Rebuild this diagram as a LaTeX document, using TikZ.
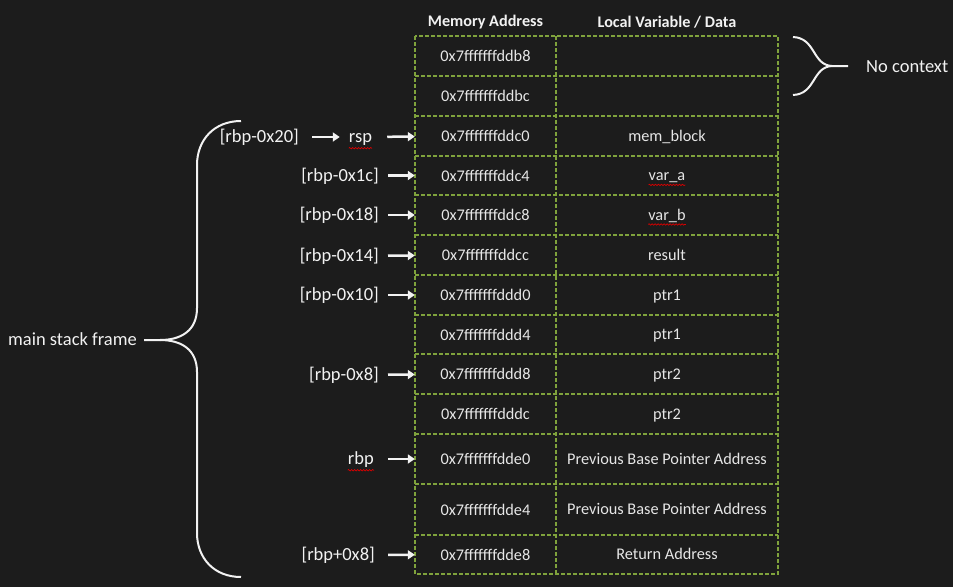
\documentclass[tikz,border=0pt]{standalone}
\usepackage{fontspec}
\setmainfont{Carlito}
\usetikzlibrary{arrows.meta,decorations.pathmorphing}
\definecolor{bgdark}{HTML}{1C1C1C}
\definecolor{cellgreen}{HTML}{7FA23C}
\definecolor{txtwhite}{HTML}{F2F2F2}
\definecolor{celltext}{HTML}{E6E6E6}
\tikzset{
  cellline/.style={draw=cellgreen, line width=1.2pt, dash pattern=on 4pt off 2pt},
  addr/.style={minimum width=141pt, minimum height=36pt, inner sep=0pt, text=celltext, font=\fontsize{16.3}{19}\selectfont},
  datatext/.style={inner sep=0pt, text height=10.5pt, text depth=0pt, text=celltext, font=\fontsize{16.3}{19}\selectfont},
  head/.style={inner sep=0pt, text=txtwhite, font=\fontsize{16.2}{19}\selectfont\bfseries},
  lbl/.style={inner sep=0pt, text height=11.5pt, text depth=0.5pt, text=txtwhite, font=\fontsize{18.5}{22}\selectfont},
  ptr/.style={draw=txtwhite, line width=2.5pt, -{Triangle[length=7pt,width=9pt]}},
  brace/.style={draw=txtwhite, line width=2pt},
  squiggle/.style={draw=red!85!black, line width=0.7pt, decorate, decoration={snake, segment length=3pt, amplitude=0.7pt}}
}
\begin{document}
\begin{tikzpicture}[x=1pt,y=-1pt]
    \fill[bgdark] (0,0) rectangle (953,587);
    \useasboundingbox (0,0) rectangle (953,587);

    % Headers
    \node[head] (hmem) at (485.5,22) {Memory Address};
    \node[head] (hdata) at (667,22) {Local Variable / Data};

    % Grid
    \draw[cellline] (415,36) rectangle (778,574);
    \draw[cellline] (556,36) -- (556,574);
    \foreach \y in {76,116,156,195,235,275,315,354,394,434,484,535}
        \draw[cellline] (415,\y) -- (778,\y);

    % Addresses
    \node[addr] (a1) at (485.5,56) {0x7fffffffddb8};
    \node[addr] (a2) at (485.5,96) {0x7fffffffddbc};
    \node[addr] (a3) at (485.5,136) {0x7fffffffddc0};
    \node[addr] (a4) at (485.5,175.5) {0x7fffffffddc4};
    \node[addr] (a5) at (485.5,215) {0x7fffffffddc8};
    \node[addr] (a6) at (485.5,255) {0x7fffffffddcc};
    \node[addr] (a7) at (485.5,295) {0x7fffffffddd0};
    \node[addr] (a8) at (485.5,334.5) {0x7fffffffddd4};
    \node[addr] (a9) at (485.5,374) {0x7fffffffddd8};
    \node[addr] (a10) at (485.5,414) {0x7fffffffdddc};
    \node[addr] (a11) at (485.5,459) {0x7fffffffdde0};
    \node[addr] (a12) at (485.5,509.5) {0x7fffffffdde4};
    \node[addr] (a13) at (485.5,554.5) {0x7fffffffdde8};

    % Data
    \node[datatext] (d3) at (667,136) {mem\_block};
    \node[datatext] (d4) at (667,175.5) {var\_a};
    \node[datatext] (d5) at (667,215) {var\_b};
    \node[datatext] (d6) at (667,255) {result};
    \node[datatext] (d7) at (667,295) {ptr1};
    \node[datatext] (d8) at (667,334.5) {ptr1};
    \node[datatext] (d9) at (667,374) {ptr2};
    \node[datatext] (d10) at (667,414) {ptr2};
    \node[datatext] (d11) at (667,459) {Previous Base Pointer Address};
    \node[datatext] (d12) at (667,509.5) {Previous Base Pointer Address};
    \node[datatext] (d13) at (667,554.5) {Return Address};

    % Pointer labels
    \node[lbl, anchor=east] (l20) at (299,137) {[rbp-0x20]};
    \node[lbl] (rsp) at (360.5,137) {rsp};
    \node[lbl, anchor=east] (l1c) at (379,175.5) {[rbp-0x1c]};
    \node[lbl, anchor=east] (l18) at (379,215) {[rbp-0x18]};
    \node[lbl, anchor=east] (l14) at (379,256) {[rbp-0x14]};
    \node[lbl, anchor=east] (l10) at (379,295) {[rbp-0x10]};
    \node[lbl, anchor=east] (l8) at (379,375) {[rbp-0x8]};
    \node[lbl, anchor=east] (rbp) at (374,459) {rbp};
    \node[lbl, anchor=east] (lp8) at (375,555) {[rbp+0x8]};

    % Arrows
    \draw[ptr, shorten <=13pt, shorten >=9pt] (l20) -- (rsp);
    \draw[ptr, shorten <=15pt] (rsp) -- (a3);
    \draw[ptr, shorten <=9pt] (l1c) -- (a4);
    \draw[ptr, shorten <=9pt] (l18) -- (a5);
    \draw[ptr, shorten <=9pt] (l14) -- (a6);
    \draw[ptr, shorten <=9pt] (l10) -- (a7);
    \draw[ptr, shorten <=9pt] (l8) -- (a9);
    \draw[ptr, shorten <=14pt] (rbp) -- (a11);
    \draw[ptr, shorten <=13pt] (lp8) -- (a13);

    % Spell check marks
    \draw[squiggle] ([yshift=-5pt]rsp.south west) -- ([yshift=-5pt]rsp.south east);
    \draw[squiggle] ([yshift=-5pt]rbp.south west) -- ([yshift=-5pt]rbp.south east);
    \draw[squiggle] ([yshift=-4pt]d4.south west) -- ([yshift=-4pt]d4.south east);
    \draw[squiggle] ([yshift=-4pt]d5.south west) -- ([yshift=-4pt]d5.south east);

    % main stack frame brace
    \node[lbl, anchor=east] (frame) at (137,340) {main stack frame};
    \coordinate (ftip) at (144,340);
    \draw[brace] (241,121) .. controls (214,121) and (197,140) .. (197,165) -- (197,308)
        .. controls (197,330) and (182,340) .. (160,340) -- (ftip);
    \draw[brace] (241,577) .. controls (214,577) and (197,558) .. (197,533) -- (197,372)
        .. controls (197,350) and (182,340) .. (160,340);

    % No context brace
    \node[lbl, anchor=west] (noctx) at (866,67) {No context};
    \coordinate (ntip) at (848,66);
    \draw[brace] (793,37) .. controls (816,38) and (812,65) .. (832,66) -- (ntip);
    \draw[brace] (793,95) .. controls (816,94) and (812,67) .. (832,66);
\end{tikzpicture}
\end{document}
